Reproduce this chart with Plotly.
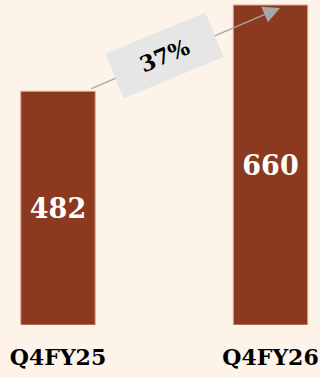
import plotly.graph_objects as go

categories = ["Q4FY25", "Q4FY26"]
values = [482, 660]
growth_label = "37%"

BG = "#fdf3e8"
BAR = "#8b3a1f"
SERIF = "DejaVu Serif"

fig = go.Figure()
fig.add_trace(go.Bar(
    x=[0, 1], y=values,
    width=0.35,
    marker=dict(color=BAR, line=dict(color="#dba58c", width=1)),
    text=[str(v) for v in values],
    textposition="inside",
    insidetextanchor="middle",
    textangle=0,
    textfont=dict(family=SERIF, size=27, color="white", weight="bold"),
    hoverinfo="skip",
))

# arrow from the top of the first bar to the top of the second
fig.add_annotation(
    x=1.045, y=values[1] - 6, xref="x", yref="y",
    ax=0.15, ay=values[0] + 4, axref="x", ayref="y",
    showarrow=True, arrowhead=2, arrowsize=2.4, arrowwidth=1.4,
    arrowcolor="#a6a6a6", text="",
)
# growth label box
fig.add_annotation(
    x=0.5, y=(values[0] + values[1]) / 2 - 15, xref="x", yref="y",
    text=f"<b>{growth_label}</b>", showarrow=False,
    textangle=-22.5, bgcolor="#e6e6e6",
    width=105, height=45, borderpad=1,
    font=dict(family=SERIF, size=22, color="black"),
)

fig.update_layout(
    width=320, height=378,
    margin=dict(l=0, r=0, t=0, b=53),
    paper_bgcolor=BG, plot_bgcolor=BG,
    showlegend=False,
    xaxis=dict(range=[-0.273, 1.233], tickvals=[0, 1], ticktext=categories,
               showgrid=False, zeroline=False, showline=False, ticks="",
               tickfont=dict(family=SERIF, size=22, color="black", weight="bold"),
               ticklabelstandoff=17),
    yaxis=dict(range=[0, values[1] * 325 / 320], visible=False),
)

fig.write_html("out.html")
